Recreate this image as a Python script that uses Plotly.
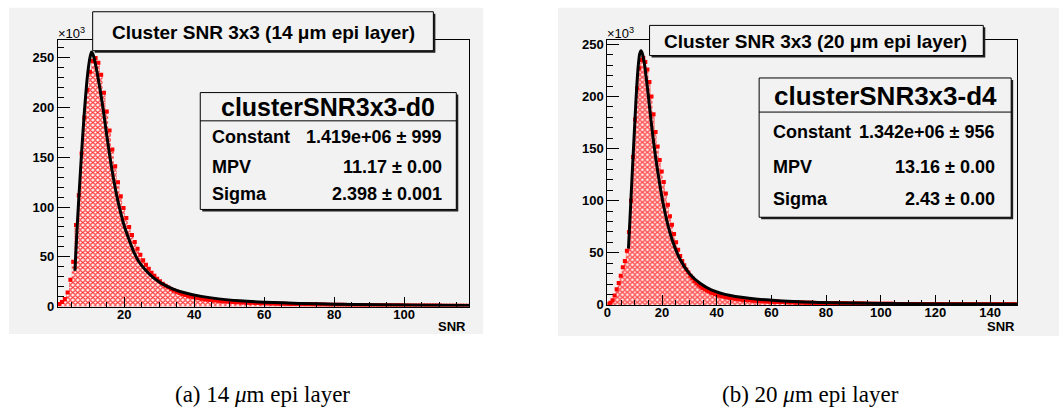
import numpy as np
import plotly.graph_objects as go

W, H = 1059, 420

# ---------------- data ----------------
# left panel: clusterSNR3x3-d0 (14 um epi layer), counts in units of 10^3
LEFT_BIN_START, LEFT_BIN_WIDTH = 1.0, 0.8
left_counts = [
    2.5, 4.5, 7.5, 14, 27, 45, 82, 112, 154, 190,
    218, 236, 247, 250, 245, 233, 215, 196, 177, 158,
    141, 125, 111, 99, 89, 80, 72, 65, 58, 52,
    46.5, 42, 38, 34, 31, 28, 25.5, 23, 21, 19.2,
    17.6, 16.1, 14.8, 13.6, 12.5, 11.6, 10.8, 10.0, 9.4, 8.8,
    8.3, 7.8, 7.4, 7.0, 6.6, 6.3, 6.0, 5.7, 5.4, 5.2,
    5.0, 4.8, 4.6, 4.4, 4.3, 4.1, 4.0, 3.9, 3.8, 3.7,
    3.6, 3.5, 3.4, 3.3, 3.2, 3.1, 3.0, 2.95, 2.9, 2.8,
    2.75, 2.7, 2.6, 2.55, 2.5, 2.45, 2.4, 2.35, 2.3, 2.25,
    2.2, 2.15, 2.1, 2.05, 2.0, 1.95, 1.9, 1.9, 1.85, 1.8,
    1.75, 1.75, 1.7, 1.65, 1.65, 1.6, 1.6, 1.55, 1.5, 1.5,
    1.45, 1.45, 1.4, 1.4, 1.35, 1.35, 1.3, 1.3, 1.3, 1.25,
    1.25, 1.2, 1.2, 1.2, 1.15, 1.15, 1.1, 1.1, 1.1, 1.05,
    1.05, 1.0, 1.0, 1.0, 0.95, 0.95, 0.95, 0.9, 0.9, 0.9,
    0.85, 0.85, 0.85, 0.8, 0.8, 0.8, 0.8,
]
left_fit_x = [5.9, 6.5, 7.2, 7.9, 8.6, 9.3, 9.9, 10.3, 10.65, 11.0, 11.5, 12.2, 13.0,
              13.9, 15.0, 16.0, 17.0, 18.0, 19.0, 20.0, 21.2, 22.6, 24.0, 26.0, 28.3,
              30.5, 34.0, 37.5, 42.0, 47.0, 53.0, 60.0, 70.0, 80.0, 92.0, 105.0, 118.6]
left_fit_y = [36, 78, 120, 160, 196, 226, 244, 252, 256, 254, 248, 236, 220,
              200, 172, 148, 127, 109, 94, 81, 69, 56, 46, 37, 29,
              23.5, 17.6, 13.6, 10.2, 7.7, 5.8, 4.4, 3.1, 2.4, 1.8, 1.3, 1.0]

# right panel: clusterSNR3x3-d4 (20 um epi layer)
RIGHT_BIN_START, RIGHT_BIN_WIDTH = 0.0, 0.75
right_counts = [
    1.0, 2, 4.5, 9, 15, 21, 28, 36, 42, 52,
    70, 100, 142, 178, 208, 227, 235, 237, 233, 226,
    214, 200, 183, 166, 152, 139, 128, 118, 107, 96,
    85, 77, 68, 60, 53, 47, 42, 38, 34, 31,
    28, 25.5, 23, 21, 19.2, 17.6, 16.2, 14.9, 13.8, 12.8,
    11.9, 11.1, 10.4, 9.7, 9.1, 8.6, 8.1, 7.6, 7.2, 6.8,
    6.5, 6.2, 5.9, 5.6, 5.4, 5.2, 5.0, 4.8, 4.6, 4.45,
    4.3, 4.15, 4.0, 3.85, 3.7, 3.6, 3.5, 3.4, 3.3, 3.2,
    3.1, 3.0, 2.95, 2.9, 2.8, 2.75, 2.7, 2.6, 2.55, 2.5,
    2.45, 2.4, 2.35, 2.3, 2.25, 2.2, 2.15, 2.1, 2.05, 2.0,
    1.95, 1.9, 1.9, 1.85, 1.8, 1.75, 1.75, 1.7, 1.65, 1.65,
    1.6, 1.6, 1.55, 1.5, 1.5, 1.45, 1.45, 1.4, 1.4, 1.35,
    1.35, 1.3, 1.3, 1.3, 1.25, 1.25, 1.2, 1.2, 1.2, 1.15,
    1.15, 1.1, 1.1, 1.1, 1.05, 1.05, 1.0, 1.0, 1.0, 0.98,
    0.96, 0.95, 0.93, 0.92, 0.9, 0.9, 0.88, 0.87, 0.86, 0.85,
    0.84, 0.83, 0.82, 0.8, 0.8, 0.79, 0.78, 0.77, 0.76, 0.75,
    0.75, 0.74, 0.73, 0.72, 0.72, 0.71, 0.7, 0.7, 0.69, 0.68,
    0.68, 0.67, 0.66, 0.66, 0.65, 0.65, 0.64, 0.64, 0.63, 0.63,
    0.62, 0.62, 0.61, 0.61, 0.6, 0.6, 0.6, 0.59, 0.59, 0.58,
    0.58, 0.58, 0.57, 0.57, 0.56, 0.56, 0.56, 0.55, 0.55, 0.55,
]
right_fit_x = [7.7, 8.3, 8.9, 9.5, 10.1, 10.7, 11.3, 11.8, 12.3, 12.8, 13.5, 14.2, 15.0,
               15.9, 17.0, 18.0, 19.0, 20.4, 22.0, 23.5, 26.5, 30.0, 34.0, 38.0, 45.0,
               55.0, 70.0, 90.0, 110.0, 130.0, 150.0]
right_fit_y = [54, 85, 117, 148, 179, 208, 230, 241, 244, 241, 232, 218, 200,
               178, 154, 135, 118, 97, 78, 64, 44, 30, 20.5, 14.5, 9,
               5.5, 3.0, 1.7, 1.1, 0.8, 0.6]

panel_titles = ["Cluster SNR 3x3 (14 \u03bcm epi layer)", "Cluster SNR 3x3 (20 \u03bcm epi layer)"]
stat_names = ["clusterSNR3x3-d0", "clusterSNR3x3-d4"]
stat_labels = ["Constant", "MPV", "Sigma"]
left_stat_values = ["1.419e+06 \u00b1 999", "11.17 \u00b1 0.00", "2.398 \u00b1 0.001"]
right_stat_values = ["1.342e+06 \u00b1 956", "13.16 \u00b1 0.00", "2.43 \u00b1 0.00"]
captions = ["(a) 14 <i>\u03bc</i>m epi layer", "(b) 20 <i>\u03bc</i>m epi layer"]
x_title = "SNR"

# ---------------- style ----------------
SANS = "Liberation Sans, Arial, sans-serif"
SERIF = "Liberation Serif, Times New Roman, serif"
CANVAS = "#f2f2f2"
RED = "#ff0000"


def fx(p):
    return p / W


def fy(p):
    return 1 - p / H


fig = go.Figure()


def add_panel(idx, start, width, counts, fit_x, fit_y):
    xa = "x" if idx == 1 else "x2"
    ya = "y" if idx == 1 else "y2"
    counts = np.asarray(counts, dtype=float)
    edges = start + width * np.arange(len(counts) + 1)
    centers = start + width * (np.arange(len(counts)) + 0.5)
    sx = list(edges[:-1]) + [edges[-1]]
    sy = list(counts) + [counts[-1]]
    # fill: red rings (outer red disc + inner white disc)
    fig.add_trace(go.Scatter(x=sx, y=sy, mode="lines", line=dict(width=0, shape="hv"),
                             fill="tozeroy", fillcolor="white",
                             fillpattern=dict(shape=".", fgcolor=RED, bgcolor="white",
                                              size=5, solidity=0.66, fillmode="replace"),
                             xaxis=xa, yaxis=ya, showlegend=False, hoverinfo="skip"))
    fig.add_trace(go.Scatter(x=sx, y=sy, mode="lines", line=dict(width=0, shape="hv"),
                             fill="tozeroy", fillcolor="rgba(0,0,0,0)",
                             fillpattern=dict(shape=".", fgcolor="white", bgcolor="rgba(0,0,0,0)",
                                              size=5, solidity=0.2, fillmode="replace"),
                             xaxis=xa, yaxis=ya, showlegend=False, hoverinfo="skip"))
    fig.add_trace(go.Scatter(x=centers, y=counts, mode="markers",
                             marker=dict(symbol="square", size=4, color=RED, line=dict(width=0)),
                             xaxis=xa, yaxis=ya, showlegend=False))
    fig.add_trace(go.Scatter(x=fit_x, y=fit_y, mode="lines",
                             line=dict(color="black", width=3, shape="spline", smoothing=0.6),
                             xaxis=xa, yaxis=ya, showlegend=False))


add_panel(1, LEFT_BIN_START, LEFT_BIN_WIDTH, left_counts, left_fit_x, left_fit_y)
add_panel(2, RIGHT_BIN_START, RIGHT_BIN_WIDTH, right_counts, right_fit_x, right_fit_y)

tickfont = dict(family=SANS, size=13, color="black", weight="bold")


def xaxis_cfg(domain, rng, anchor):
    return dict(domain=domain, range=rng, anchor=anchor, showline=True, linecolor="black",
                linewidth=1, mirror=True, ticks="inside", ticklen=10, tickwidth=1,
                tickcolor="black", tick0=0, dtick=20, tickfont=tickfont, showgrid=False,
                zeroline=False, ticklabelstandoff=-4,
                minor=dict(ticks="inside", ticklen=5, dtick=5, tickcolor="black", tickwidth=1,
                           showgrid=False))


def yaxis_cfg(domain, rng, anchor):
    return dict(domain=domain, range=rng, anchor=anchor, showline=True, linecolor="black",
                linewidth=1, mirror=True, ticks="inside", ticklen=12, tickwidth=1,
                tickcolor="black", tick0=0, dtick=50, tickfont=tickfont, showgrid=False,
                zeroline=False,
                minor=dict(ticks="inside", ticklen=6, dtick=10, tickcolor="black", tickwidth=1,
                           showgrid=False))


shapes = []
annotations = []

# canvases
for (x0, y0, x1, y1) in [(5, 5, 481, 340), (556, 5, 1059, 342)]:
    shapes.append(dict(type="rect", xref="paper", yref="paper", x0=fx(x0), x1=fx(x1),
                       y0=fy(y1), y1=fy(y0), fillcolor=CANVAS, line=dict(width=0), layer="below"))


def pave(x0, y0, x1, y1):
    shapes.append(dict(type="rect", xref="paper", yref="paper", x0=fx(x0 + 2), x1=fx(x1 + 2),
                       y0=fy(y1 + 2), y1=fy(y0 + 2), fillcolor="#202020",
                       line=dict(width=0), layer="above"))
    shapes.append(dict(type="rect", xref="paper", yref="paper", x0=fx(x0), x1=fx(x1),
                       y0=fy(y1), y1=fy(y0), fillcolor=CANVAS,
                       line=dict(width=1, color="black"), layer="above"))


def text(t, x, y, size, xanchor="center", bold=True, family=SANS):
    annotations.append(dict(text=t, xref="paper", yref="paper", x=fx(x), y=fy(y),
                            xanchor=xanchor, yanchor="middle", showarrow=False,
                            font=dict(family=family, size=size, color="black",
                                      weight="bold" if bold else "normal")))


# title boxes
pave(89, 9, 431, 49)
text(panel_titles[0], 260, 30, 19)
pave(648, 23, 983, 54)
text(panel_titles[1], 815, 40, 19)

# stat boxes
pave(197, 92, 454, 212)
shapes.append(dict(type="line", xref="paper", yref="paper", x0=fx(197), x1=fx(454),
                   y0=fy(121), y1=fy(121), line=dict(color="black", width=1), layer="above"))
text(stat_names[0], 325.5, 107, 25)
for lab, val, yy in zip(stat_labels, left_stat_values, [138, 168, 196]):
    text(lab, 207, yy, 18, xanchor="left")
    text(val, 442, yy, 18, xanchor="right")

pave(758, 77, 1011, 220)
shapes.append(dict(type="line", xref="paper", yref="paper", x0=fx(758), x1=fx(1011),
                   y0=fy(112), y1=fy(112), line=dict(color="black", width=1), layer="above"))
text(stat_names[1], 884.5, 95, 26)
for lab, val, yy in zip(stat_labels, right_stat_values, [132, 168, 201]):
    text(lab, 770, yy, 18, xanchor="left")
    text(val, 997, yy, 18, xanchor="right")

# axis decorations
text("\u00d710<sup>3</sup>", 52, 31, 13, xanchor="left", bold=False)
text("\u00d710<sup>3</sup>", 603, 31, 13, xanchor="left", bold=False)
text(x_title, 466, 332, 13, xanchor="right")
text(x_title, 1017, 332, 13, xanchor="right")

# captions
text(captions[0], 259, 402, 23, bold=False, family=SERIF)
text(captions[1], 810, 402, 23, bold=False, family=SERIF)

fig.update_layout(
    width=W, height=H, autosize=False,
    margin=dict(l=0, r=0, t=0, b=0),
    paper_bgcolor="white", plot_bgcolor="rgba(0,0,0,0)",
    xaxis=xaxis_cfg([fx(54), fx(467)], [LEFT_BIN_START, 118.6], "y"),
    yaxis=yaxis_cfg([fy(311.7), fy(38)], [0, 268], "x"),
    xaxis2=xaxis_cfg([fx(605.7), fx(1017.3)], [RIGHT_BIN_START, 150], "y2"),
    yaxis2=yaxis_cfg([fy(310), fy(37.7)], [0, 254.5], "x2"),
    shapes=shapes, annotations=annotations,
)

fig.write_html("out.html", config={"displayModeBar": False},
               post_script="document.body.style.margin='0';document.body.style.overflow='hidden';")
